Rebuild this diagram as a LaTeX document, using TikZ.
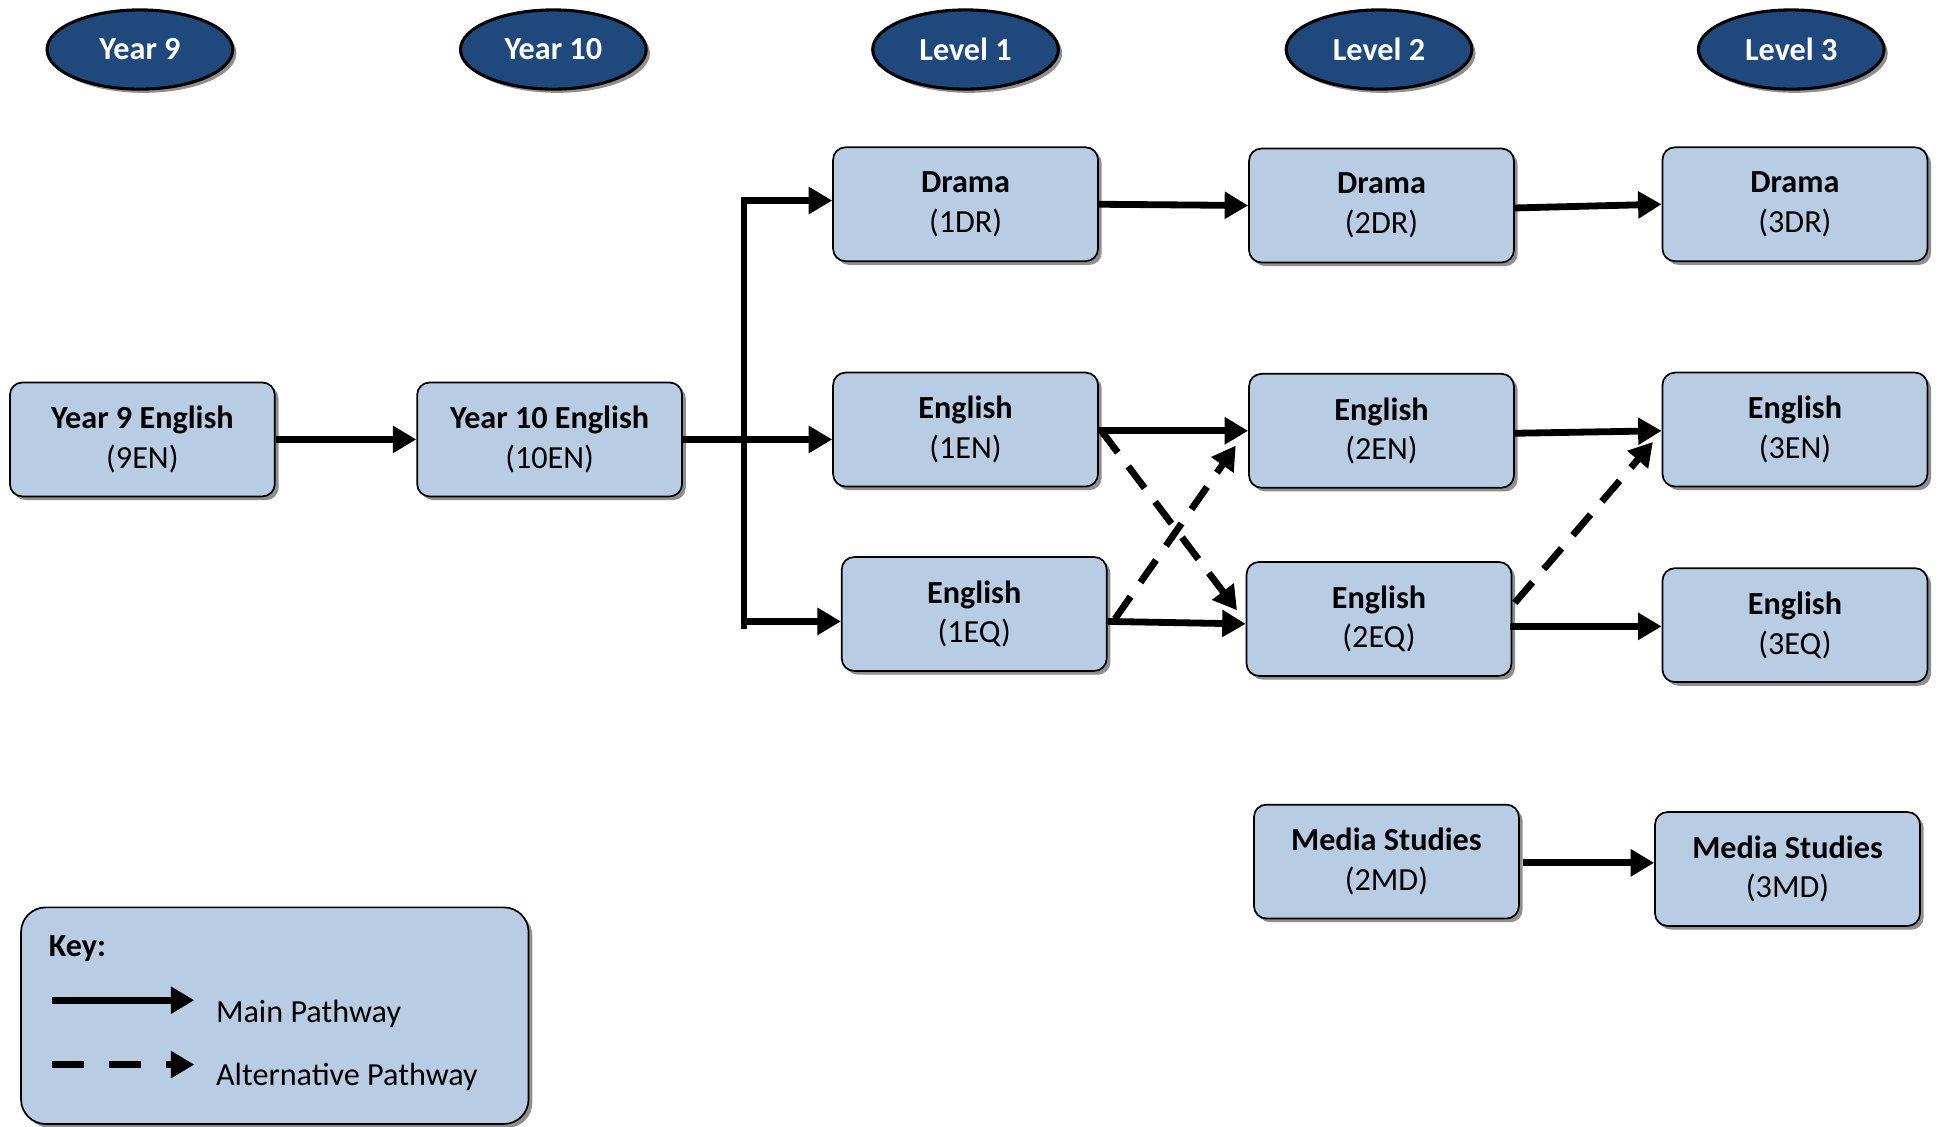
\documentclass[tikz,border=0pt]{standalone}
\usepackage{fontspec}
\setmainfont{Carlito}
\usetikzlibrary{shapes.geometric,arrows.meta,shadows,calc}
\definecolor{hdrblue}{HTML}{1F497D}
\definecolor{boxblue}{HTML}{B8CCE4}
\begin{document}
\begin{tikzpicture}[x=1pt,y=-1pt,
  font=\fontsize{26}{32}\selectfont,
  hdr/.style={ellipse,draw=black,line width=2.5pt,fill=hdrblue,text=white,font=\fontsize{26}{32}\selectfont\bfseries,
    minimum width=150pt,minimum height=64pt,inner sep=0pt,
    drop shadow={shadow xshift=3pt,shadow yshift=-3pt,fill=black!55,opacity=0.8}},
  course/.style={rectangle,rounded corners=10pt,draw=black,line width=1.4pt,fill=boxblue,align=center,
    minimum width=214pt,minimum height=92pt,inner sep=0pt,
    drop shadow={shadow xshift=3pt,shadow yshift=-3pt,fill=black!55,opacity=0.8}},
  main/.style={line width=5.5pt,-{Triangle[length=19pt,width=21pt]}},
  plain/.style={line width=5.5pt},
  alt/.style={line width=5.5pt,dash pattern=on 22pt off 14pt,-{Triangle[length=19pt,width=21pt]}},
]
\useasboundingbox (0,0) rectangle (1568,910);

% headers
\node[hdr] (h9) at (113,40) {Year 9};
\node[hdr] (h10) at (447,40) {Year 10};
\node[hdr] (hl1) at (780,40) {Level 1};
\node[hdr] (hl2) at (1114,40) {Level 2};
\node[hdr] (hl3) at (1447,40) {Level 3};

% course boxes
\node[course] (en9) at (115,355) {\textbf{Year 9 English}\\(9EN)};
\node[course] (en10) at (444,355) {\textbf{Year 10 English}\\(10EN)};
\node[course] (dr1) at (780,165) {\textbf{Drama}\\(1DR)};
\node[course] (en1) at (780,347) {\textbf{English}\\(1EN)};
\node[course] (eq1) at (787,496) {\textbf{English}\\(1EQ)};
\node[course] (dr2) at (1116,166) {\textbf{Drama}\\(2DR)};
\node[course] (en2) at (1116,348) {\textbf{English}\\(2EN)};
\node[course] (eq2) at (1114,500) {\textbf{English}\\(2EQ)};
\node[course] (dr3) at (1450,165) {\textbf{Drama}\\(3DR)};
\node[course] (en3) at (1450,347) {\textbf{English}\\(3EN)};
\node[course] (eq3) at (1450,505) {\textbf{English}\\(3EQ)};
\node[course] (md2) at (1120,696) {\textbf{Media Studies}\\(2MD)};
\node[course] (md3) at (1444,702) {\textbf{Media Studies}\\(3MD)};

% key
\node[rectangle,rounded corners=20pt,draw=black,line width=1.4pt,fill=boxblue,
  minimum width=410pt,minimum height=175pt,inner sep=0pt,
  drop shadow={shadow xshift=3pt,shadow yshift=-3pt,fill=black!55,opacity=0.8}] (key) at (222,820.5) {};
\node[anchor=west,font=\fontsize{26}{32}\selectfont\bfseries] (keyt) at (36,766) {Key:};
\coordinate (ka1) at (42,808);
\coordinate (kb1) at (157,808);
\coordinate (ka2) at (42,860);
\coordinate (kb2) at (157,860);
\node[anchor=west] (kmain) at (171,819) {Main Pathway};
\node[anchor=west] (kalt) at (171,870) {Alternative Pathway};
\draw[main] (ka1) -- (kb1);
\draw[line width=5.5pt,dash pattern=on 26pt off 20pt,-{Triangle[length=19pt,width=21pt]}] (ka2) -- (kb2);

% junction
\coordinate (jt) at (601,162);
\coordinate (jm) at (601,355);
\coordinate (jb) at (601,505);
\coordinate (jq) at (601,502);
\draw[main] (en9.east) -- (en10.west);
\draw[plain] (en10.east) -- (jm);
\draw[plain,line cap=rect] (jt) -- (jb);
\draw[main] (jm) -- (jm -| en1.west);
\draw[main] (jt) -- (jt -| dr1.west);
\draw[main] (jq) -- (jq -| eq1.west);

% level 1 to 2
\draw[main] (dr1.east) -- (dr2.west);
\draw[main] ($(en1.east)+(0,1)$) -- (en2.west);
\draw[main] ($(eq1.east)+(0,6)$) -- ($(eq2.west)+(0,4)$);
\draw[alt] ($(en1.east)+(2,1)$) -- ($(eq2.west)+(-7,-7)$);
\draw[alt] ($(eq1.east)+(6,4)$) -- ($(en2.west)+(-10,12)$);

% level 2 to 3
\draw[main] ($(dr2.east)+(0,2)$) -- (dr3.west);
\draw[main] ($(en2.east)+(0,2)$) -- ($(en3.west)+(0,1)$);
\draw[main] ($(eq2.east)+(-2,6)$) -- ($(eq3.west)+(0,1)$);
\draw[alt] ($(eq2.east)+(2,-13)$) -- ($(en3.west)+(-7,10)$);
\draw[main] ($(md2.east)+(3,1)$) -- ($(md3.west)+(0,-5)$);
\end{tikzpicture}
\end{document}
